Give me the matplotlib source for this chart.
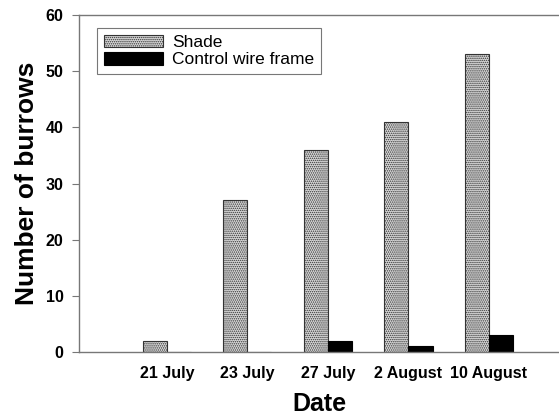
import matplotlib
matplotlib.use("Agg")
import matplotlib.pyplot as plt
import numpy as np

plt.rcParams['font.family'] = ['Liberation Sans', 'DejaVu Sans']
plt.rcParams['hatch.color'] = '#666666'
plt.rcParams['hatch.linewidth'] = 0.7

dates = ["21 July", "23 July", "27 July", "2 August", "10 August"]
shade = [2, 27, 36, 41, 53]
control = [0, 0, 2, 1, 3]

fig = plt.figure(figsize=(5.59, 4.19), dpi=100)
ax = fig.add_axes([79/559, 1-352/419, 1-79/559, (352-15)/419])

x = np.arange(len(dates))
w = 0.3
ax.bar(x - w/2, shade, width=w, facecolor='#d8d8d8', edgecolor='#333333',
       linewidth=0.8, hatch='........', label='Shade')
ax.bar(x + w/2, control, width=w, facecolor='black', edgecolor='black',
       linewidth=0.8, label='Control wire frame')

ax.set_xlim(-1.09, 4.87)
ax.set_ylim(0, 60)
ax.set_yticks([0, 10, 20, 30, 40, 50, 60])
ax.set_xticks(x)
ax.set_xticklabels(dates, fontsize=11.5, fontweight='bold')
for lab in ax.get_yticklabels():
    lab.set_fontsize(11.5)
    lab.set_fontweight('bold')
ax.tick_params(axis='x', length=0, pad=10)
ax.tick_params(axis='y', length=5, width=0.8, color='#777777', pad=6)

for s in ['left', 'bottom', 'top']:
    ax.spines[s].set_color('#777777')
    ax.spines[s].set_linewidth(1.0)
ax.spines['right'].set_visible(False)

ax.set_ylabel('Number of burrows', fontsize=19, fontweight='bold', labelpad=5)
ax.set_xlabel('Date', fontsize=18, fontweight='bold', labelpad=8)

leg = ax.legend(loc='upper left', bbox_to_anchor=(0.038, 0.962), fontsize=12.5,
                frameon=True, fancybox=False, edgecolor='#555555',
                handlelength=3.4, handleheight=0.75, borderpad=0.4,
                labelspacing=0.1, handletextpad=0.5, borderaxespad=0)
leg.get_frame().set_linewidth(0.8)

fig.savefig('out.png', dpi=100)
